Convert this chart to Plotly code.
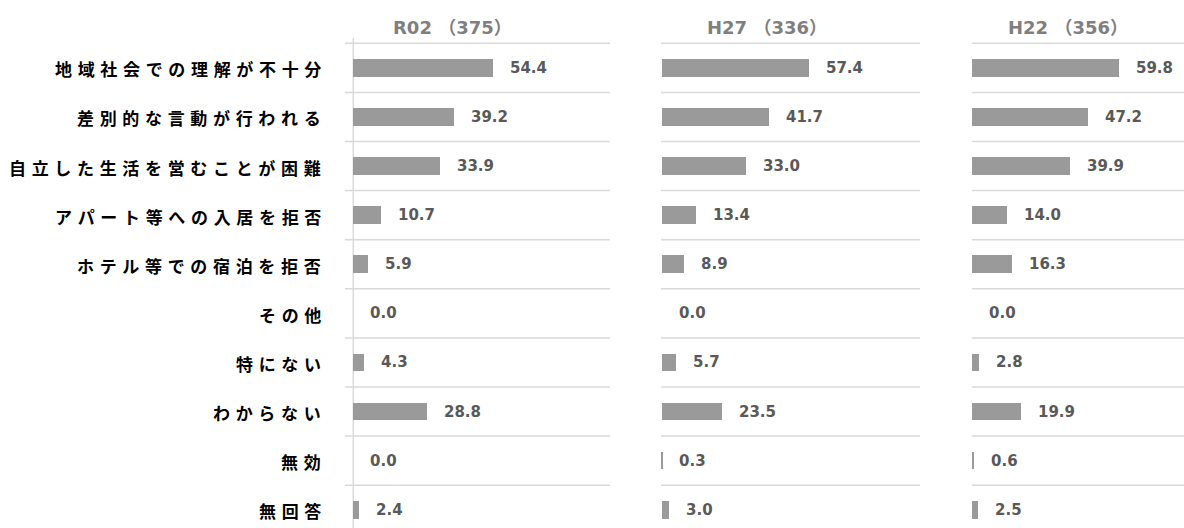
import plotly.graph_objects as go

categories = ["地域社会での理解が不十分", "差別的な言動が行われる", "自立した生活を営むことが困難",
              "アパート等への入居を拒否", "ホテル等での宿泊を拒否", "その他", "特にない",
              "わからない", "無効", "無回答"]
panel_titles = ["R02 （375）", "H27 （336）", "H22 （356）"]
r02 = [54.4, 39.2, 33.9, 10.7, 5.9, 0.0, 4.3, 28.8, 0.0, 2.4]
h27 = [57.4, 41.7, 33.0, 13.4, 8.9, 0.0, 5.7, 23.5, 0.3, 3.0]
h22 = [59.8, 47.2, 39.9, 14.0, 16.3, 0.0, 2.8, 19.9, 0.6, 2.5]

series = [r02, h27, h22]
W, H = 1184, 528
TOP = 40
PH = H - TOP
domains = [(345 / W, 610 / W), (661 / W, 920 / W), (972 / W, 1.0)]
ranges = [[-3.24, 100.2], [-0.2, 100.7], [-0.1, 86.1]]
title_x = [452, 767, 1068]
axes = ["x", "x2", "x3"]

BAR = "#9a9a9a"
GRID = "#d9d9d9"
LABEL = "#595959"

idx = list(range(len(categories)))
fig = go.Figure()
annotations = []
shapes = []
for i, vals in enumerate(series):
    ax = axes[i]
    fig.add_trace(go.Bar(x=vals, y=idx, orientation="h", xaxis=ax, yaxis="y",
                         marker=dict(color=BAR, line=dict(width=0)), width=0.36,
                         hoverinfo="x+y", showlegend=False))
    for j, v in enumerate(vals):
        annotations.append(dict(x=v, y=j, xref=ax, yref="y", text=f"{v:.1f}",
                                showarrow=False, xanchor="left", yanchor="middle",
                                xshift=15, font=dict(family="DejaVu Sans", size=15,
                                                     color=LABEL, weight="bold")))
    for k in range(len(categories)):
        shapes.append(dict(type="line", xref=f"{ax} domain", yref="y", x0=0, x1=1,
                           y0=k - 0.5, y1=k - 0.5, line=dict(color=GRID, width=1.5),
                           layer="below"))
    annotations.append(dict(x=title_x[i] / W, y=1 + (TOP - 27) / PH, xref="paper", yref="paper",
                            text=panel_titles[i], showarrow=False,
                            xanchor="center", yanchor="middle",
                            font=dict(family="DejaVu Sans, Noto Sans CJK JP", size=18,
                                      color="#7f7f7f", weight="bold")))

# vertical axis line in first panel
shapes.append(dict(type="line", xref="x", yref="paper", x0=0, x1=0, y0=0, y1=1 + 2 / PH,
                   line=dict(color=GRID, width=1.5), layer="below"))

for j, c in enumerate(categories):
    annotations.append(dict(x=323 / W, y=j, xref="paper", yref="y",
                            text="\u2004".join(list(c)), showarrow=False,
                            xanchor="right", yanchor="middle", yshift=-1,
                            font=dict(family="Noto Sans CJK JP", size=17,
                                      color="#000000", weight="bold")))

layout = dict(
    width=W, height=H,
    margin=dict(l=0, r=0, t=TOP, b=0),
    paper_bgcolor="white", plot_bgcolor="white",
    yaxis=dict(range=[9.372, -0.567], showgrid=False, zeroline=False,
               showticklabels=False, showline=False, ticks="", anchor="x"),
    annotations=annotations, shapes=shapes, bargap=0,
)
for i, ax in enumerate(axes):
    key = "xaxis" if i == 0 else f"xaxis{i+1}"
    layout[key] = dict(domain=list(domains[i]), range=ranges[i], showgrid=False,
                       zeroline=False, showticklabels=False, showline=False,
                       ticks="", anchor="y", fixedrange=True)
fig.update_layout(**layout)
fig.write_html("out.html", config={"displayModeBar": False},
               post_script="document.body.style.margin='0';")
